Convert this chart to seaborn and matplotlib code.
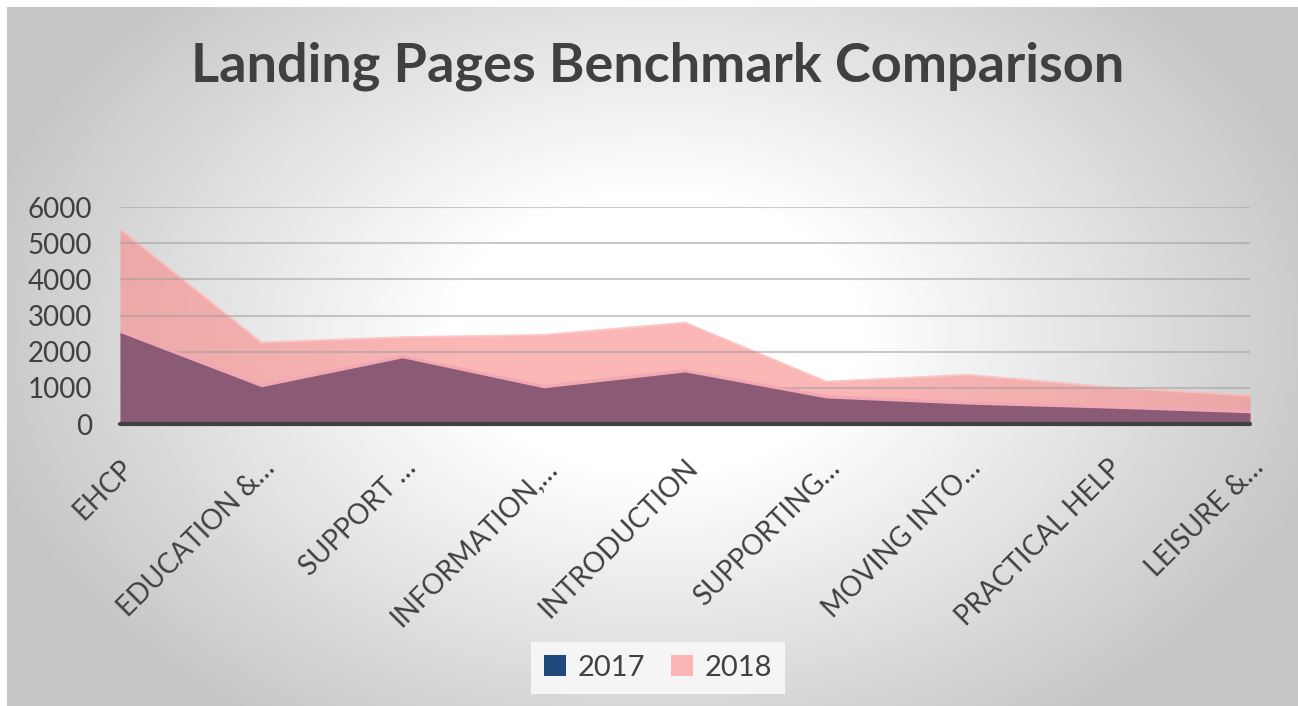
import numpy as np
import pandas as pd
import matplotlib.pyplot as plt
import seaborn as sns
from matplotlib.patches import Patch

# 数据
categories = ["EHCP", "EDUCATION &…", "SUPPORT …", "INFORMATION,…", "INTRODUCTION",
              "SUPPORTING…", "MOVING INTO…", "PRACTICAL HELP", "LEISURE &…"]
values_2017 = [2530, 1030, 1830, 1000, 1440, 720, 550, 440, 310]
values_2018 = [5390, 2250, 2400, 2460, 2800, 1170, 1360, 1020, 785]
years = ["2017", "2018"]
y_ticks = [0, 1000, 2000, 3000, 4000, 5000, 6000]

sns.set_theme(style="white")
plt.rcParams['font.family'] = ['Lato', 'DejaVu Sans']

df = pd.DataFrame({'page': categories, '2017': values_2017, '2018': values_2018})
df['pos'] = np.arange(len(df))

fig = plt.figure(figsize=(12.98, 7.06), dpi=100, facecolor='white')

# 径向渐变背景
bg = fig.add_axes([7 / 1298, -0.01, 1.01 - 7 / 1298, 1.01 - 7 / 706])
gx, gy = np.meshgrid(np.linspace(7, 1298, 400), np.linspace(7, 706, 220))
d = np.sqrt(((gx - 650) / 650) ** 2 + ((gy - 330) / 450) ** 2)
shade = 255 - 57 * np.clip((d - 0.3) / 0.75, 0, 1)
bg.imshow(shade / 255, cmap='gray', vmin=0, vmax=1, aspect='auto', interpolation='bilinear')
bg.axis('off')

# 主图
ax = fig.add_axes([120 / 1298, 1 - 424 / 706, 1130 / 1298, 217 / 706])
ax.set_facecolor('none')

ax.fill_between(df['pos'], 0, df['2018'], color='#f98f8f', alpha=0.65, lw=0, zorder=1)
sns.lineplot(x=df['pos'], y=df['2018'], color='#fbbcbc', lw=1.5, alpha=0.8, ax=ax, zorder=1.1)
sns.lineplot(x=df['pos'], y=df['2017'], color='#f2a7b4', lw=4, ax=ax, zorder=2.8)
ax.fill_between(df['pos'], 0, df['2017'], color='#8b5a75', lw=0, zorder=3)
ax.axhline(0, color='#404040', lw=3, zorder=4, clip_on=False)

ax.set_axisbelow(False)
ax.yaxis.grid(True, color='#a0a0a0', alpha=0.55, lw=1.5)
ax.xaxis.grid(False)
ax.set_xlim(0, len(categories) - 1)
ax.set_ylim(0, 6000)
ax.set_yticks(y_ticks)
ax.set_xticks(df['pos'], categories, rotation=45, ha='right', rotation_mode='anchor')
ax.tick_params(axis='x', length=0, pad=22, labelsize=20, labelcolor='#404040')
ax.tick_params(axis='y', length=0, pad=20, labelsize=20, labelcolor='#404040')
ax.set_xlabel('')
ax.set_ylabel('')
for s in ax.spines.values():
    s.set_visible(False)

# 图例
handles = [Patch(facecolor='#1f497d', edgecolor='none'), Patch(facecolor='#fbb5b5', edgecolor='none')]
fig.legend(handles, years, loc='center', bbox_to_anchor=(0.507, 0.054), ncol=2,
           frameon=True, facecolor='#f5f5f5', edgecolor='none', fancybox=False, framealpha=1,
           fontsize=21, handlelength=0.75, handleheight=0.75, columnspacing=0.9,
           handletextpad=0.4, labelcolor='#404040', borderpad=0.45, borderaxespad=0)

fig.text(0.5066, 1 - 66 / 706, "Landing Pages Benchmark Comparison", ha='center', va='center',
         fontsize=39, fontweight='bold', color='#404040')

fig.savefig('out.png', dpi=100)
